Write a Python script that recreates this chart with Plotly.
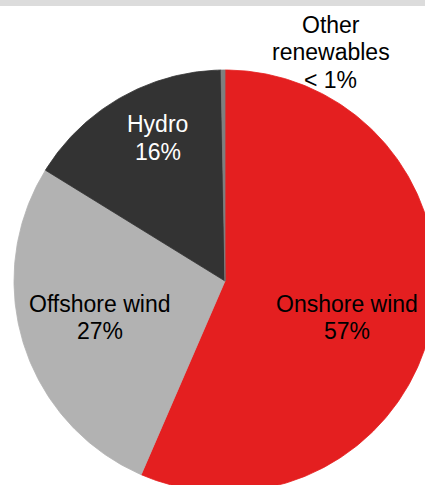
import numpy as np
import plotly.graph_objects as go

# ---- data ----
categories = ["Onshore wind", "Offshore wind", "Hydro", "Other renewables"]
shares = [56.5, 27.3, 15.9, 0.3]
pct_labels = ["57%", "27%", "16%", "< 1%"]
label_lines = [["Onshore wind"], ["Offshore wind"], ["Hydro"], ["Other", "renewables"]]

# ---- styles ----
colors = ["#E41F20", "#B2B2B2", "#333333", "#7F7F7F"]
text_colors = ["#000000", "#000000", "#FFFFFF", "#000000"]
# label anchor positions (unit-circle coordinates, pie centre = 0,0)
label_pos = [(0.578, -0.172), (-0.593, -0.172), (-0.318, 0.677), (0.502, 1.085)]
LINE_GAP = 27.5

W, H = 425, 485
cx_px, cy_px, r_px = 225, 281, 211

fig = go.Figure()
total = float(sum(shares))
cum = np.concatenate([[0.0], np.cumsum(shares)]) / total
for i, name in enumerate(categories):
    n = max(4, int(400 * (cum[i + 1] - cum[i])))
    t = np.linspace(cum[i], cum[i + 1], n) * 2 * np.pi
    xs = np.concatenate([[0.0], np.sin(t), [0.0]])
    ys = np.concatenate([[0.0], np.cos(t), [0.0]])
    fig.add_trace(go.Scatter(
        x=xs, y=ys, mode="lines", fill="toself",
        fillcolor=colors[i], line=dict(color=colors[i], width=0.8),
        name=name, hoverinfo="name", showlegend=False,
    ))

for i, name in enumerate(categories):
    lines = label_lines[i] + [pct_labels[i]]
    nl = len(lines)
    for k, line in enumerate(lines):
        fig.add_annotation(
            x=label_pos[i][0], y=label_pos[i][1], xref="x", yref="y",
            text=line, showarrow=False, yshift=((nl - 1) / 2 - k) * LINE_GAP,
            font=dict(family="Liberation Sans, Arial, sans-serif", size=23, color=text_colors[i]),
            align="center",
        )

# top grey band
fig.add_shape(type="rect", xref="paper", yref="paper", x0=0, x1=1,
              y0=1 - 6 / H, y1=1, fillcolor="#DCDCDC", line=dict(width=0), layer="above")

x_rng = [(0 - cx_px) / r_px, (W - cx_px) / r_px]
y_rng = [(cy_px - H) / r_px, (cy_px - 0) / r_px]
fig.update_layout(
    width=W, height=H, margin=dict(l=0, r=0, t=0, b=0),
    paper_bgcolor="white", plot_bgcolor="white", showlegend=False,
    xaxis=dict(range=x_rng, visible=False, fixedrange=True),
    yaxis=dict(range=y_rng, visible=False, fixedrange=True),
)
fig.write_html("out.html")
